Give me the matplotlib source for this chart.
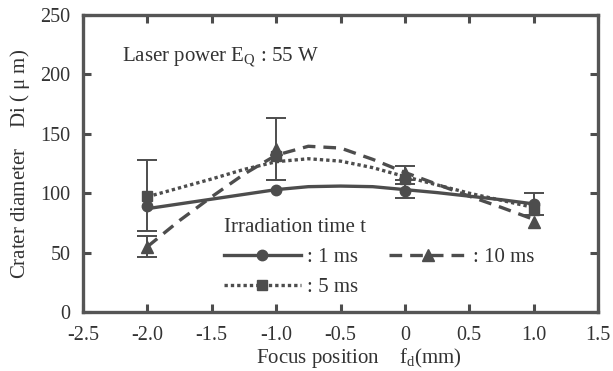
import matplotlib.pyplot as plt
from matplotlib.lines import Line2D

plt.rcParams['font.family'] = ['Liberation Serif', 'DejaVu Serif']
plt.rcParams['mathtext.fontset'] = 'custom'
plt.rcParams['mathtext.rm'] = 'Liberation Serif'
plt.rcParams['mathtext.it'] = 'Liberation Serif'

# measured points (focus position, crater diameter)
pos = [-2.0, -1.0, 0.0, 1.0]
d_1ms = [89, 103, 102, 91]
d_5ms = [98, 131, 112, 86]
d_10ms = [55, 137, 117, 76]
err_1ms = [0, 0, 6, 9]
err_5ms = [30, 0, 0, 0]
err_10ms = [9, 26, 6, 0]

# trend curves
fx = [-2.0, -1.75, -1.5, -1.25, -1.0, -0.75, -0.5, -0.25, 0.0, 0.25, 0.5, 0.75, 1.0]
fit_1ms = [87, 91, 95, 99, 103, 105.5, 106, 105.5, 103, 100.5, 97.5, 94.5, 91]
fit_5ms = [97, 104.5, 112, 120, 126.5, 129, 127, 121.5, 114, 107, 100, 94, 88]
fit_10ms = [55, 77, 97, 116, 132, 139.5, 138, 128.5, 117.5, 107.5, 97.5, 88, 78]

xticks = [-2.5, -2.0, -1.5, -1.0, -0.5, 0, 0.5, 1.0, 1.5]
xlabels = ['-2.5', '-2.0', '-1.5', '-1.0', '-0.5', '0', '0.5', '1.0', '1.5']
yticks = [0, 50, 100, 150, 200, 250]

gray = '#4d4d4d'
txt = '#333333'
fs = 15

fig = plt.figure(figsize=(6.13, 3.71), dpi=100)
ax = fig.add_axes([83 / 613, 59 / 371, 515 / 613, 297 / 371])

series = [
    (d_1ms, err_1ms, fit_1ms, '-', 'o', 7.5, ': 1 ms'),
    (d_5ms, err_5ms, fit_5ms, (0, (1.0, 0.9)), 's', 7, ': 5 ms'),
    (d_10ms, err_10ms, fit_10ms, (0, (3.8, 2.4)), '^', 8, ': 10 ms'),
]

handles = []
labels = []
for d, e, fit, ls, mk, ms, lab in series:
    ax.plot(fx, fit, color=gray, lw=2.4, ls=ls)
    ex = [p for p, v in zip(pos, e) if v > 0]
    ey = [y for y, v in zip(d, e) if v > 0]
    ee = [v for v in e if v > 0]
    ax.errorbar(ex, ey, yerr=ee, fmt='none', ecolor=gray, elinewidth=1.4,
                capsize=7, capthick=1.4)
    ax.plot(pos, d, ls='none', marker=mk, ms=ms, color=gray)
    handles.append(Line2D([], [], color=gray, lw=2.4, ls=ls, marker=mk, ms=ms))
    labels.append(lab)

ax.set_xlim(-2.5, 1.5)
ax.set_ylim(0, 250)
ax.set_xticks(xticks)
ax.set_xticklabels(xlabels)
ax.set_yticks(yticks)
ax.tick_params(direction='in', top=True, right=True, length=6, width=2.2,
               color=gray, labelsize=14.5, labelcolor=txt)
ax.tick_params(axis='y', pad=9)
ax.tick_params(axis='x', pad=10)
for sp in ax.spines.values():
    sp.set_linewidth(2.4)
    sp.set_color('#555555')

ax.set_xlabel(r'Focus position    f$_{\mathregular{d}}$(mm)', fontsize=fs, color=txt)
ax.xaxis.set_label_coords(0.535, -0.115)
ax.set_ylabel(r'Crater diameter    Di ( $\mathregular{\mu}$ m)', fontsize=fs, color=txt)
ax.yaxis.set_label_coords(-0.1, 0.5)

ax.text(0.075, 0.86, r'Laser power E$_{\mathregular{Q}}$ : 55 W', transform=ax.transAxes,
        fontsize=fs, color=txt, va='center')

leg = ax.legend(handles, labels, title='Irradiation time t', ncol=2, frameon=False,
                loc='lower left', bbox_to_anchor=(0.245, 0.0), fontsize=fs,
                title_fontsize=fs, handlelength=3.7, handletextpad=0.3,
                columnspacing=1.5, labelspacing=0.5, alignment='left',
                borderaxespad=0.3)
for t in leg.get_texts():
    t.set_color(txt)
leg.get_title().set_color(txt)

fig.savefig('out.png', dpi=100)
